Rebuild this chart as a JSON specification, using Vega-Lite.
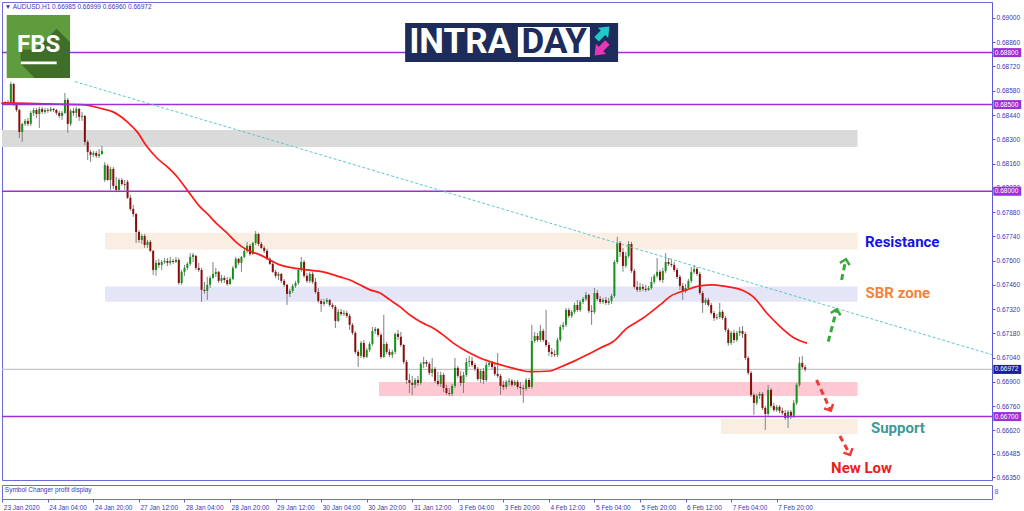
{
"$schema":"https://vega.github.io/schema/vega-lite/v6.json",
"background":"#ffffff",
"padding":{"left":-2,"top":1,"right":0,"bottom":0},
"autosize":{"type":"pad"},
"spacing":2,
"config":{"view":{"stroke":"#6b6be0","strokeWidth":1},"font":"Liberation Sans","scale":{"continuousPadding":0}},
"datasets":{
"candles":[
{"t":0,"o":0.68510,"h":0.68521,"l":0.68498,"c":0.68504},
{"t":1,"o":0.68504,"h":0.68521,"l":0.68498,"c":0.68515},
{"t":2,"o":0.68515,"h":0.68527,"l":0.68504,"c":0.68510},
{"t":3,"o":0.68510,"h":0.68631,"l":0.68504,"c":0.68619},
{"t":4,"o":0.68619,"h":0.68625,"l":0.68492,"c":0.68498},
{"t":5,"o":0.68498,"h":0.68504,"l":0.68458,"c":0.68469},
{"t":6,"o":0.68469,"h":0.68475,"l":0.68308,"c":0.68342},
{"t":7,"o":0.68342,"h":0.68394,"l":0.68285,"c":0.68389},
{"t":8,"o":0.68389,"h":0.68417,"l":0.68377,"c":0.68406},
{"t":9,"o":0.68406,"h":0.68423,"l":0.68377,"c":0.68389},
{"t":10,"o":0.68389,"h":0.68464,"l":0.68377,"c":0.68452},
{"t":11,"o":0.68452,"h":0.68481,"l":0.68435,"c":0.68469},
{"t":12,"o":0.68469,"h":0.68481,"l":0.68423,"c":0.68446},
{"t":13,"o":0.68446,"h":0.68487,"l":0.68365,"c":0.68475},
{"t":14,"o":0.68475,"h":0.68487,"l":0.68446,"c":0.68458},
{"t":15,"o":0.68458,"h":0.68481,"l":0.68446,"c":0.68469},
{"t":16,"o":0.68469,"h":0.68481,"l":0.68452,"c":0.68464},
{"t":17,"o":0.68464,"h":0.68487,"l":0.68458,"c":0.68475},
{"t":18,"o":0.68475,"h":0.68481,"l":0.68458,"c":0.68469},
{"t":19,"o":0.68469,"h":0.68475,"l":0.68440,"c":0.68452},
{"t":20,"o":0.68452,"h":0.68464,"l":0.68423,"c":0.68435},
{"t":21,"o":0.68435,"h":0.68464,"l":0.68412,"c":0.68452},
{"t":22,"o":0.68452,"h":0.68567,"l":0.68446,"c":0.68527},
{"t":23,"o":0.68527,"h":0.68539,"l":0.68337,"c":0.68389},
{"t":24,"o":0.68389,"h":0.68475,"l":0.68377,"c":0.68464},
{"t":25,"o":0.68464,"h":0.68481,"l":0.68435,"c":0.68452},
{"t":26,"o":0.68452,"h":0.68487,"l":0.68423,"c":0.68475},
{"t":27,"o":0.68475,"h":0.68481,"l":0.68406,"c":0.68429},
{"t":28,"o":0.68429,"h":0.68458,"l":0.68406,"c":0.68435},
{"t":29,"o":0.68435,"h":0.68440,"l":0.68267,"c":0.68285},
{"t":30,"o":0.68285,"h":0.68296,"l":0.68181,"c":0.68227},
{"t":31,"o":0.68227,"h":0.68239,"l":0.68169,"c":0.68210},
{"t":32,"o":0.68210,"h":0.68233,"l":0.68198,"c":0.68221},
{"t":33,"o":0.68221,"h":0.68233,"l":0.68192,"c":0.68204},
{"t":34,"o":0.68204,"h":0.68244,"l":0.68192,"c":0.68215},
{"t":35,"o":0.68215,"h":0.68262,"l":0.68210,"c":0.68233},
{"t":36,"o":0.68065,"h":0.68169,"l":0.68054,"c":0.68152},
{"t":37,"o":0.68146,"h":0.68158,"l":0.68060,"c":0.68065},
{"t":38,"o":0.68065,"h":0.68140,"l":0.68008,"c":0.68129},
{"t":39,"o":0.68129,"h":0.68140,"l":0.68013,"c":0.68031},
{"t":40,"o":0.68031,"h":0.68083,"l":0.68002,"c":0.68008},
{"t":41,"o":0.68008,"h":0.68077,"l":0.68002,"c":0.68065},
{"t":42,"o":0.68065,"h":0.68077,"l":0.68031,"c":0.68042},
{"t":43,"o":0.68042,"h":0.68065,"l":0.68008,"c":0.68037},
{"t":44,"o":0.68054,"h":0.68065,"l":0.67956,"c":0.67962},
{"t":45,"o":0.67962,"h":0.67979,"l":0.67887,"c":0.67898},
{"t":46,"o":0.67898,"h":0.67921,"l":0.67852,"c":0.67869},
{"t":47,"o":0.67869,"h":0.67875,"l":0.67702,"c":0.67765},
{"t":48,"o":0.67765,"h":0.67777,"l":0.67702,"c":0.67719},
{"t":49,"o":0.67719,"h":0.67754,"l":0.67696,"c":0.67742},
{"t":50,"o":0.67742,"h":0.67754,"l":0.67673,"c":0.67690},
{"t":51,"o":0.67690,"h":0.67719,"l":0.67673,"c":0.67708},
{"t":52,"o":0.67708,"h":0.67719,"l":0.67650,"c":0.67656},
{"t":53,"o":0.67656,"h":0.67662,"l":0.67517,"c":0.67546},
{"t":54,"o":0.67546,"h":0.67604,"l":0.67512,"c":0.67587},
{"t":55,"o":0.67587,"h":0.67610,"l":0.67558,"c":0.67575},
{"t":56,"o":0.67575,"h":0.67604,"l":0.67546,"c":0.67592},
{"t":57,"o":0.67592,"h":0.67615,"l":0.67581,"c":0.67598},
{"t":58,"o":0.67598,"h":0.67615,"l":0.67569,"c":0.67587},
{"t":59,"o":0.67587,"h":0.67621,"l":0.67575,"c":0.67598},
{"t":60,"o":0.67598,"h":0.67610,"l":0.67581,"c":0.67592},
{"t":61,"o":0.67592,"h":0.67621,"l":0.67587,"c":0.67604},
{"t":62,"o":0.67604,"h":0.67615,"l":0.67460,"c":0.67471},
{"t":63,"o":0.67471,"h":0.67546,"l":0.67460,"c":0.67535},
{"t":64,"o":0.67535,"h":0.67575,"l":0.67512,"c":0.67558},
{"t":65,"o":0.67558,"h":0.67592,"l":0.67546,"c":0.67581},
{"t":66,"o":0.67581,"h":0.67644,"l":0.67569,"c":0.67621},
{"t":67,"o":0.67621,"h":0.67644,"l":0.67592,"c":0.67633},
{"t":68,"o":0.67627,"h":0.67633,"l":0.67546,"c":0.67558},
{"t":69,"o":0.67558,"h":0.67587,"l":0.67535,"c":0.67546},
{"t":70,"o":0.67546,"h":0.67558,"l":0.67362,"c":0.67431},
{"t":71,"o":0.67431,"h":0.67477,"l":0.67408,"c":0.67425},
{"t":72,"o":0.67425,"h":0.67506,"l":0.67373,"c":0.67460},
{"t":73,"o":0.67460,"h":0.67512,"l":0.67442,"c":0.67500},
{"t":74,"o":0.67500,"h":0.67592,"l":0.67494,"c":0.67523},
{"t":75,"o":0.67523,"h":0.67558,"l":0.67506,"c":0.67535},
{"t":76,"o":0.67535,"h":0.67540,"l":0.67471,"c":0.67483},
{"t":77,"o":0.67483,"h":0.67517,"l":0.67471,"c":0.67500},
{"t":78,"o":0.67500,"h":0.67512,"l":0.67471,"c":0.67488},
{"t":79,"o":0.67488,"h":0.67506,"l":0.67454,"c":0.67465},
{"t":80,"o":0.67465,"h":0.67506,"l":0.67460,"c":0.67494},
{"t":81,"o":0.67494,"h":0.67569,"l":0.67488,"c":0.67558},
{"t":82,"o":0.67558,"h":0.67621,"l":0.67552,"c":0.67610},
{"t":83,"o":0.67610,"h":0.67615,"l":0.67575,"c":0.67587},
{"t":84,"o":0.67587,"h":0.67627,"l":0.67535,"c":0.67621},
{"t":85,"o":0.67621,"h":0.67667,"l":0.67615,"c":0.67656},
{"t":86,"o":0.67656,"h":0.67708,"l":0.67644,"c":0.67685},
{"t":87,"o":0.67685,"h":0.67696,"l":0.67627,"c":0.67638},
{"t":88,"o":0.67638,"h":0.67708,"l":0.67633,"c":0.67702},
{"t":89,"o":0.67702,"h":0.67771,"l":0.67690,"c":0.67754},
{"t":90,"o":0.67754,"h":0.67760,"l":0.67685,"c":0.67696},
{"t":91,"o":0.67696,"h":0.67708,"l":0.67667,"c":0.67673},
{"t":92,"o":0.67673,"h":0.67685,"l":0.67644,"c":0.67656},
{"t":93,"o":0.67656,"h":0.67667,"l":0.67604,"c":0.67610},
{"t":94,"o":0.67610,"h":0.67621,"l":0.67575,"c":0.67581},
{"t":95,"o":0.67581,"h":0.67592,"l":0.67529,"c":0.67535},
{"t":96,"o":0.67535,"h":0.67546,"l":0.67500,"c":0.67512},
{"t":97,"o":0.67512,"h":0.67535,"l":0.67488,"c":0.67523},
{"t":98,"o":0.67523,"h":0.67529,"l":0.67471,"c":0.67483},
{"t":99,"o":0.67483,"h":0.67494,"l":0.67448,"c":0.67460},
{"t":100,"o":0.67460,"h":0.67465,"l":0.67344,"c":0.67408},
{"t":101,"o":0.67408,"h":0.67437,"l":0.67390,"c":0.67425},
{"t":102,"o":0.67425,"h":0.67465,"l":0.67413,"c":0.67454},
{"t":103,"o":0.67454,"h":0.67483,"l":0.67442,"c":0.67471},
{"t":104,"o":0.67471,"h":0.67558,"l":0.67460,"c":0.67546},
{"t":105,"o":0.67546,"h":0.67621,"l":0.67535,"c":0.67592},
{"t":106,"o":0.67592,"h":0.67604,"l":0.67500,"c":0.67512},
{"t":107,"o":0.67512,"h":0.67529,"l":0.67471,"c":0.67483},
{"t":108,"o":0.67483,"h":0.67535,"l":0.67471,"c":0.67523},
{"t":109,"o":0.67523,"h":0.67535,"l":0.67465,"c":0.67477},
{"t":110,"o":0.67477,"h":0.67500,"l":0.67408,"c":0.67419},
{"t":111,"o":0.67419,"h":0.67442,"l":0.67356,"c":0.67367},
{"t":112,"o":0.67367,"h":0.67379,"l":0.67304,"c":0.67350},
{"t":113,"o":0.67350,"h":0.67379,"l":0.67338,"c":0.67362},
{"t":114,"o":0.67362,"h":0.67385,"l":0.67350,"c":0.67373},
{"t":115,"o":0.67373,"h":0.67379,"l":0.67333,"c":0.67344},
{"t":116,"o":0.67344,"h":0.67356,"l":0.67321,"c":0.67333},
{"t":117,"o":0.67333,"h":0.67344,"l":0.67211,"c":0.67252},
{"t":118,"o":0.67252,"h":0.67321,"l":0.67246,"c":0.67304},
{"t":119,"o":0.67304,"h":0.67321,"l":0.67281,"c":0.67292},
{"t":120,"o":0.67292,"h":0.67315,"l":0.67281,"c":0.67298},
{"t":121,"o":0.67298,"h":0.67310,"l":0.67269,"c":0.67281},
{"t":122,"o":0.67281,"h":0.67292,"l":0.67200,"c":0.67229},
{"t":123,"o":0.67229,"h":0.67240,"l":0.67171,"c":0.67183},
{"t":124,"o":0.67183,"h":0.67194,"l":0.67061,"c":0.67073},
{"t":125,"o":0.67073,"h":0.67085,"l":0.66986,"c":0.67050},
{"t":126,"o":0.67050,"h":0.67136,"l":0.67038,"c":0.67125},
{"t":127,"o":0.67125,"h":0.67142,"l":0.67033,"c":0.67044},
{"t":128,"o":0.67044,"h":0.67096,"l":0.67038,"c":0.67085},
{"t":129,"o":0.67085,"h":0.67131,"l":0.67073,"c":0.67119},
{"t":130,"o":0.67119,"h":0.67217,"l":0.67108,"c":0.67194},
{"t":131,"o":0.67194,"h":0.67217,"l":0.67177,"c":0.67206},
{"t":132,"o":0.67206,"h":0.67211,"l":0.67160,"c":0.67171},
{"t":133,"o":0.67171,"h":0.67183,"l":0.67033,"c":0.67044},
{"t":134,"o":0.67044,"h":0.67287,"l":0.67038,"c":0.67119},
{"t":135,"o":0.67119,"h":0.67131,"l":0.67061,"c":0.67073},
{"t":136,"o":0.67073,"h":0.67090,"l":0.67044,"c":0.67056},
{"t":137,"o":0.67056,"h":0.67085,"l":0.67038,"c":0.67073},
{"t":138,"o":0.67073,"h":0.67183,"l":0.67061,"c":0.67177},
{"t":139,"o":0.67177,"h":0.67200,"l":0.67142,"c":0.67160},
{"t":140,"o":0.67160,"h":0.67188,"l":0.67102,"c":0.67113},
{"t":141,"o":0.67113,"h":0.67119,"l":0.67004,"c":0.67015},
{"t":142,"o":0.67015,"h":0.67027,"l":0.66888,"c":0.66911},
{"t":143,"o":0.66911,"h":0.66946,"l":0.66836,"c":0.66894},
{"t":144,"o":0.66894,"h":0.66935,"l":0.66825,"c":0.66883},
{"t":145,"o":0.66883,"h":0.66923,"l":0.66865,"c":0.66911},
{"t":146,"o":0.66911,"h":0.66935,"l":0.66877,"c":0.66894},
{"t":147,"o":0.66894,"h":0.67015,"l":0.66883,"c":0.67004},
{"t":148,"o":0.67004,"h":0.67044,"l":0.66981,"c":0.67015},
{"t":149,"o":0.67015,"h":0.67027,"l":0.66986,"c":0.67004},
{"t":150,"o":0.67004,"h":0.67015,"l":0.66940,"c":0.66952},
{"t":151,"o":0.66952,"h":0.67038,"l":0.66929,"c":0.66975},
{"t":152,"o":0.66975,"h":0.66986,"l":0.66894,"c":0.66906},
{"t":153,"o":0.66906,"h":0.66958,"l":0.66877,"c":0.66888},
{"t":154,"o":0.66888,"h":0.66958,"l":0.66871,"c":0.66940},
{"t":155,"o":0.66940,"h":0.66952,"l":0.66842,"c":0.66865},
{"t":156,"o":0.66865,"h":0.66883,"l":0.66825,"c":0.66836},
{"t":157,"o":0.66836,"h":0.66865,"l":0.66819,"c":0.66831},
{"t":158,"o":0.66831,"h":0.66888,"l":0.66819,"c":0.66877},
{"t":159,"o":0.66877,"h":0.67038,"l":0.66865,"c":0.66981},
{"t":160,"o":0.66981,"h":0.66992,"l":0.66923,"c":0.66935},
{"t":161,"o":0.66935,"h":0.66963,"l":0.66877,"c":0.66894},
{"t":162,"o":0.66894,"h":0.66958,"l":0.66836,"c":0.66940},
{"t":163,"o":0.66940,"h":0.67038,"l":0.66929,"c":0.67015},
{"t":164,"o":0.67015,"h":0.67050,"l":0.66986,"c":0.67021},
{"t":165,"o":0.67021,"h":0.67044,"l":0.66986,"c":0.66998},
{"t":166,"o":0.66998,"h":0.67010,"l":0.66963,"c":0.66975},
{"t":167,"o":0.66975,"h":0.66986,"l":0.66906,"c":0.66917},
{"t":168,"o":0.66917,"h":0.66975,"l":0.66894,"c":0.66963},
{"t":169,"o":0.66963,"h":0.66981,"l":0.66888,"c":0.66911},
{"t":170,"o":0.66911,"h":0.67015,"l":0.66900,"c":0.66998},
{"t":171,"o":0.66998,"h":0.67021,"l":0.66986,"c":0.67010},
{"t":172,"o":0.67010,"h":0.67021,"l":0.66975,"c":0.66986},
{"t":173,"o":0.66986,"h":0.67004,"l":0.66935,"c":0.66946},
{"t":174,"o":0.66946,"h":0.67067,"l":0.66923,"c":0.66935},
{"t":175,"o":0.66935,"h":0.66946,"l":0.66825,"c":0.66877},
{"t":176,"o":0.66883,"h":0.66906,"l":0.66854,"c":0.66871},
{"t":177,"o":0.66871,"h":0.66911,"l":0.66860,"c":0.66900},
{"t":178,"o":0.66900,"h":0.66923,"l":0.66877,"c":0.66906},
{"t":179,"o":0.66906,"h":0.66917,"l":0.66871,"c":0.66883},
{"t":180,"o":0.66883,"h":0.66911,"l":0.66877,"c":0.66900},
{"t":181,"o":0.66900,"h":0.66911,"l":0.66860,"c":0.66871},
{"t":182,"o":0.66871,"h":0.66900,"l":0.66825,"c":0.66865},
{"t":183,"o":0.66865,"h":0.66883,"l":0.66779,"c":0.66860},
{"t":184,"o":0.66860,"h":0.66923,"l":0.66848,"c":0.66911},
{"t":185,"o":0.66911,"h":0.66923,"l":0.66860,"c":0.66871},
{"t":186,"o":0.66871,"h":0.67229,"l":0.66860,"c":0.67136},
{"t":187,"o":0.67136,"h":0.67188,"l":0.67125,"c":0.67165},
{"t":188,"o":0.67165,"h":0.67183,"l":0.67131,"c":0.67142},
{"t":189,"o":0.67142,"h":0.67229,"l":0.67131,"c":0.67194},
{"t":190,"o":0.67194,"h":0.67206,"l":0.67131,"c":0.67142},
{"t":191,"o":0.67142,"h":0.67315,"l":0.67102,"c":0.67113},
{"t":192,"o":0.67113,"h":0.67131,"l":0.67050,"c":0.67073},
{"t":193,"o":0.67073,"h":0.67096,"l":0.67044,"c":0.67061},
{"t":194,"o":0.67061,"h":0.67085,"l":0.67044,"c":0.67056},
{"t":195,"o":0.67056,"h":0.67154,"l":0.67044,"c":0.67142},
{"t":196,"o":0.67142,"h":0.67229,"l":0.67131,"c":0.67217},
{"t":197,"o":0.67217,"h":0.67246,"l":0.67200,"c":0.67229},
{"t":198,"o":0.67229,"h":0.67327,"l":0.67217,"c":0.67315},
{"t":199,"o":0.67315,"h":0.67327,"l":0.67269,"c":0.67281},
{"t":200,"o":0.67281,"h":0.67315,"l":0.67269,"c":0.67304},
{"t":201,"o":0.67304,"h":0.67356,"l":0.67292,"c":0.67344},
{"t":202,"o":0.67344,"h":0.67373,"l":0.67304,"c":0.67315},
{"t":203,"o":0.67315,"h":0.67373,"l":0.67304,"c":0.67362},
{"t":204,"o":0.67362,"h":0.67390,"l":0.67350,"c":0.67379},
{"t":205,"o":0.67379,"h":0.67419,"l":0.67367,"c":0.67402},
{"t":206,"o":0.67402,"h":0.67408,"l":0.67298,"c":0.67310},
{"t":207,"o":0.67310,"h":0.67344,"l":0.67229,"c":0.67304},
{"t":208,"o":0.67304,"h":0.67442,"l":0.67292,"c":0.67413},
{"t":209,"o":0.67413,"h":0.67431,"l":0.67367,"c":0.67379},
{"t":210,"o":0.67379,"h":0.67396,"l":0.67350,"c":0.67362},
{"t":211,"o":0.67362,"h":0.67385,"l":0.67350,"c":0.67373},
{"t":212,"o":0.67373,"h":0.67390,"l":0.67344,"c":0.67356},
{"t":213,"o":0.67356,"h":0.67385,"l":0.67344,"c":0.67367},
{"t":214,"o":0.67367,"h":0.67408,"l":0.67350,"c":0.67396},
{"t":215,"o":0.67396,"h":0.67604,"l":0.67385,"c":0.67592},
{"t":216,"o":0.67592,"h":0.67737,"l":0.67581,"c":0.67702},
{"t":217,"o":0.67702,"h":0.67713,"l":0.67621,"c":0.67650},
{"t":218,"o":0.67650,"h":0.67673,"l":0.67535,"c":0.67569},
{"t":219,"o":0.67569,"h":0.67650,"l":0.67558,"c":0.67627},
{"t":220,"o":0.67627,"h":0.67713,"l":0.67615,"c":0.67696},
{"t":221,"o":0.67696,"h":0.67708,"l":0.67529,"c":0.67540},
{"t":222,"o":0.67540,"h":0.67552,"l":0.67437,"c":0.67448},
{"t":223,"o":0.67448,"h":0.67483,"l":0.67419,"c":0.67431},
{"t":224,"o":0.67431,"h":0.67471,"l":0.67419,"c":0.67448},
{"t":225,"o":0.67448,"h":0.67465,"l":0.67425,"c":0.67437},
{"t":226,"o":0.67437,"h":0.67460,"l":0.67419,"c":0.67431},
{"t":227,"o":0.67431,"h":0.67454,"l":0.67425,"c":0.67442},
{"t":228,"o":0.67442,"h":0.67506,"l":0.67431,"c":0.67477},
{"t":229,"o":0.67477,"h":0.67523,"l":0.67465,"c":0.67512},
{"t":230,"o":0.67512,"h":0.67615,"l":0.67500,"c":0.67535},
{"t":231,"o":0.67535,"h":0.67546,"l":0.67477,"c":0.67488},
{"t":232,"o":0.67488,"h":0.67558,"l":0.67471,"c":0.67540},
{"t":233,"o":0.67540,"h":0.67644,"l":0.67529,"c":0.67592},
{"t":234,"o":0.67592,"h":0.67615,"l":0.67569,"c":0.67581},
{"t":235,"o":0.67581,"h":0.67610,"l":0.67563,"c":0.67575},
{"t":236,"o":0.67575,"h":0.67592,"l":0.67535,"c":0.67546},
{"t":237,"o":0.67546,"h":0.67558,"l":0.67494,"c":0.67506},
{"t":238,"o":0.67506,"h":0.67517,"l":0.67431,"c":0.67454},
{"t":239,"o":0.67454,"h":0.67471,"l":0.67373,"c":0.67425},
{"t":240,"o":0.67425,"h":0.67465,"l":0.67413,"c":0.67442},
{"t":241,"o":0.67442,"h":0.67494,"l":0.67431,"c":0.67483},
{"t":242,"o":0.67483,"h":0.67563,"l":0.67471,"c":0.67535},
{"t":243,"o":0.67535,"h":0.67575,"l":0.67523,"c":0.67552},
{"t":244,"o":0.67552,"h":0.67563,"l":0.67512,"c":0.67523},
{"t":245,"o":0.67523,"h":0.67535,"l":0.67402,"c":0.67413},
{"t":246,"o":0.67413,"h":0.67425,"l":0.67298,"c":0.67356},
{"t":247,"o":0.67356,"h":0.67385,"l":0.67344,"c":0.67373},
{"t":248,"o":0.67373,"h":0.67385,"l":0.67333,"c":0.67344},
{"t":249,"o":0.67344,"h":0.67356,"l":0.67287,"c":0.67298},
{"t":250,"o":0.67298,"h":0.67310,"l":0.67252,"c":0.67269},
{"t":251,"o":0.67269,"h":0.67292,"l":0.67258,"c":0.67275},
{"t":252,"o":0.67275,"h":0.67356,"l":0.67263,"c":0.67304},
{"t":253,"o":0.67304,"h":0.67315,"l":0.67258,"c":0.67269},
{"t":254,"o":0.67269,"h":0.67281,"l":0.67188,"c":0.67200},
{"t":255,"o":0.67200,"h":0.67211,"l":0.67108,"c":0.67125},
{"t":256,"o":0.67125,"h":0.67194,"l":0.67113,"c":0.67183},
{"t":257,"o":0.67183,"h":0.67200,"l":0.67125,"c":0.67142},
{"t":258,"o":0.67142,"h":0.67194,"l":0.67131,"c":0.67183},
{"t":259,"o":0.67183,"h":0.67217,"l":0.67165,"c":0.67194},
{"t":260,"o":0.67194,"h":0.67223,"l":0.67154,"c":0.67177},
{"t":261,"o":0.67177,"h":0.67188,"l":0.67027,"c":0.67038},
{"t":262,"o":0.67038,"h":0.67050,"l":0.66940,"c":0.66952},
{"t":263,"o":0.66952,"h":0.66963,"l":0.66813,"c":0.66825},
{"t":264,"o":0.66825,"h":0.66836,"l":0.66710,"c":0.66779},
{"t":265,"o":0.66779,"h":0.66831,"l":0.66767,"c":0.66819},
{"t":266,"o":0.66819,"h":0.66842,"l":0.66802,"c":0.66831},
{"t":267,"o":0.66831,"h":0.66842,"l":0.66738,"c":0.66750},
{"t":268,"o":0.66750,"h":0.66761,"l":0.66623,"c":0.66715},
{"t":269,"o":0.66715,"h":0.66883,"l":0.66704,"c":0.66854},
{"t":270,"o":0.66854,"h":0.66865,"l":0.66750,"c":0.66761},
{"t":271,"o":0.66761,"h":0.66779,"l":0.66727,"c":0.66738},
{"t":272,"o":0.66738,"h":0.66767,"l":0.66727,"c":0.66756},
{"t":273,"o":0.66756,"h":0.66767,"l":0.66721,"c":0.66733},
{"t":274,"o":0.66733,"h":0.66750,"l":0.66710,"c":0.66721},
{"t":275,"o":0.66721,"h":0.66738,"l":0.66681,"c":0.66692},
{"t":276,"o":0.66692,"h":0.66738,"l":0.66634,"c":0.66727},
{"t":277,"o":0.66727,"h":0.66738,"l":0.66686,"c":0.66704},
{"t":278,"o":0.66704,"h":0.66796,"l":0.66692,"c":0.66779},
{"t":279,"o":0.66779,"h":0.66894,"l":0.66767,"c":0.66883},
{"t":280,"o":0.66883,"h":0.67044,"l":0.66871,"c":0.67010},
{"t":281,"o":0.67010,"h":0.67050,"l":0.66975,"c":0.66985},
{"t":282,"o":0.66985,"h":0.66999,"l":0.66960,"c":0.66972}
],
"ma":[
{"t":0,"ma":0.6851},{"t":9,"ma":0.68507},{"t":16,"ma":0.68504},{"t":29,"ma":0.68498},{"t":34.3,"ma":0.68479},{"t":38.9,"ma":0.68458},{"t":43.8,"ma":0.68402},{"t":47.3,"ma":0.68344},{"t":50.8,"ma":0.68258},{"t":54.3,"ma":0.68192},{"t":57.9,"ma":0.68142},{"t":61.4,"ma":0.68084},{"t":64.9,"ma":0.68008},{"t":69.4,"ma":0.67911},{"t":73,"ma":0.67854},{"t":74,"ma":0.67835},{"t":78.9,"ma":0.6776},{"t":82.4,"ma":0.67702},{"t":85.9,"ma":0.67662},{"t":90.5,"ma":0.67633},{"t":94,"ma":0.67604},{"t":97.5,"ma":0.67575},{"t":102.1,"ma":0.67558},{"t":107,"ma":0.67546},{"t":112.6,"ma":0.67535},{"t":118.6,"ma":0.67506},{"t":122.1,"ma":0.67488},{"t":125.6,"ma":0.6746},{"t":129.2,"ma":0.67431},{"t":132.7,"ma":0.67413},{"t":136.2,"ma":0.67373},{"t":139.7,"ma":0.67333},{"t":143.2,"ma":0.67286},{"t":146.7,"ma":0.67248},{"t":151.3,"ma":0.67211},{"t":154.8,"ma":0.67171},{"t":158.3,"ma":0.67125},{"t":163.2,"ma":0.67075},{"t":167.8,"ma":0.67038},{"t":172.4,"ma":0.67011},{"t":177.3,"ma":0.66988},{"t":181.8,"ma":0.66969},{"t":185.4,"ma":0.66959},{"t":192.4,"ma":0.66963},{"t":195.9,"ma":0.66985},{"t":200.5,"ma":0.67017},{"t":205.4,"ma":0.67056},{"t":210,"ma":0.67096},{"t":214.5,"ma":0.67132},{"t":219.4,"ma":0.6721},{"t":225,"ma":0.67267},{"t":231,"ma":0.67344},{"t":234.5,"ma":0.67392},{"t":240.5,"ma":0.67431},{"t":245,"ma":0.67454},{"t":249.6,"ma":0.6746},{"t":254.5,"ma":0.6745},{"t":260.2,"ma":0.67427},{"t":263.7,"ma":0.67392},{"t":268.6,"ma":0.67296},{"t":273.2,"ma":0.67219},{"t":277.7,"ma":0.67158},{"t":282.7,"ma":0.67123}
]
},
"vconcat":[
{
"width":990,"height":478,
"resolve":{"axis":{"x":"independent","y":"independent"}},
"layer":[
{"data":{"values":[{"x1":-0.1,"x2":300.4,"y1":0.68354,"y2":0.68255}]},
 "mark":{"type":"rect","color":"#dadada"},
 "encoding":{
  "x":{"field":"x1","type":"quantitative","scale":{"domain":[-0.1,347.63],"nice":false,"zero":false,"padding":0},"axis":null},
  "x2":{"field":"x2"},
  "y":{"field":"y1","type":"quantitative","scale":{"domain":[0.66334,0.69092],"nice":false,"zero":false,"padding":0},
   "axis":{"orient":"right","title":null,"grid":false,"values":[0.69,0.6886,0.6872,0.6858,0.6844,0.683,0.6816,0.6802,0.6788,0.6774,0.676,0.6746,0.6732,0.6718,0.6704,0.669,0.6676,0.6662,0.66485,0.6635],"format":".5f","domain":true,"domainColor":"#5b5bd8","tickColor":"#5b5bd8","tickSize":3,"labelFont":"Liberation Sans","labelFontSize":6.5,"labelColor":"#3838b8","labelPadding":1,"labelAlign":"left","labelBaseline":"middle","labelOverlap":false,"labelFlush":false}},
  "y2":{"field":"y2"}}},
{"data":{"values":[{"x1":36.1,"x2":300.4,"y1":0.6776,"y2":0.67664},{"x1":252.4,"x2":300.4,"y1":0.66686,"y2":0.666}]},
 "mark":{"type":"rect","color":"#faeee2"},
 "encoding":{"x":{"field":"x1","type":"quantitative","axis":null},"x2":{"field":"x2"},"y":{"field":"y1","type":"quantitative","axis":null},"y2":{"field":"y2"}}},
{"data":{"values":[{"x1":36.1,"x2":300.4,"y1":0.6745,"y2":0.67362}]},
 "mark":{"type":"rect","color":"#e4e6f8"},
 "encoding":{"x":{"field":"x1","type":"quantitative","axis":null},"x2":{"field":"x2"},"y":{"field":"y1","type":"quantitative","axis":null},"y2":{"field":"y2"}}},
{"data":{"values":[{"x1":132.3,"x2":300.4,"y1":0.669,"y2":0.66819}]},
 "mark":{"type":"rect","color":"#ffc8d2"},
 "encoding":{"x":{"field":"x1","type":"quantitative","axis":null},"x2":{"field":"x2"},"y":{"field":"y1","type":"quantitative","axis":null},"y2":{"field":"y2"}}},
{"data":{"values":[{"p":0.66972}]},
 "mark":{"type":"rule","color":"#c4c4c4","strokeWidth":1.3},
 "encoding":{"y":{"field":"p","type":"quantitative","axis":null}}},
{"data":{"name":"candles"},
 "mark":{"type":"rule","color":"#808080","strokeWidth":1},
 "encoding":{"x":{"field":"t","type":"quantitative","axis":null},"y":{"field":"l","type":"quantitative","axis":null},"y2":{"field":"h"}}},
{"data":{"name":"candles"},
 "mark":{"type":"bar","width":2},
 "encoding":{"x":{"field":"t","type":"quantitative","axis":null},"y":{"field":"o","type":"quantitative","axis":null},"y2":{"field":"c"},
  "color":{"condition":{"test":"datum.c > datum.o","value":"#15901a"},"value":"#8b0a0a"}}},
{"data":{"name":"ma"},
 "mark":{"type":"line","color":"#ff1a1a","strokeWidth":1.7,"interpolate":"monotone"},
 "encoding":{"x":{"field":"t","type":"quantitative","axis":null},"y":{"field":"ma","type":"quantitative","axis":null}}},
{"data":{"values":[{"p":0.688},{"p":0.685},{"p":0.68},{"p":0.667}]},
 "mark":{"type":"rule","color":"#9b30d9","strokeWidth":1.5},
 "encoding":{"y":{"field":"p","type":"quantitative","axis":null}}},
{"data":{"values":[{"t1":25.5,"p1":0.68633,"t2":347.6,"p2":0.67057}]},
 "mark":{"type":"rule","color":"#5ec8c8","strokeWidth":1,"strokeDash":[3,2]},
 "encoding":{"x":{"field":"t1","type":"quantitative","axis":null},"x2":{"field":"t2"},"y":{"field":"p1","type":"quantitative","axis":null},"y2":{"field":"p2"}}},
{"data":{"values":[{"t1":290.1,"p1":0.67132,"t2":293.1,"p2":0.67319},{"t1":294.8,"p1":0.67488,"t2":296.3,"p2":0.67608}]},
 "mark":{"type":"rule","color":"#3aa838","strokeWidth":3,"strokeDash":[6,4]},
 "encoding":{"x":{"field":"t1","type":"quantitative","axis":null},"x2":{"field":"t2"},"y":{"field":"p1","type":"quantitative","axis":null},"y2":{"field":"p2"}}},
{"data":{"values":[{"t1":286.0,"p1":0.66911,"t2":291.0,"p2":0.66734},{"t1":294.2,"p1":0.66588,"t2":297.8,"p2":0.66479}]},
 "mark":{"type":"rule","color":"#f03a3a","strokeWidth":3,"strokeDash":[6,4]},
 "encoding":{"x":{"field":"t1","type":"quantitative","axis":null},"x2":{"field":"t2"},"y":{"field":"p1","type":"quantitative","axis":null},"y2":{"field":"p2"}}},
{"data":{"values":[{"t":293.1,"p":0.67319},{"t":296.3,"p":0.67608}]},
 "mark":{"type":"point","shape":"M-1,1L0,0L1,1","filled":false,"color":"#3aa838","strokeWidth":2.5,"size":100,"angle":13,"opacity":1},
 "encoding":{"x":{"field":"t","type":"quantitative","axis":null},"y":{"field":"p","type":"quantitative","axis":null}}},
{"data":{"values":[{"t":291.0,"p":0.66734},{"t":297.8,"p":0.66479}]},
 "mark":{"type":"point","shape":"M-1,1L0,0L1,1","filled":false,"color":"#f03a3a","strokeWidth":2.5,"size":100,"angle":154,"opacity":1},
 "encoding":{"x":{"field":"t","type":"quantitative","axis":null},"y":{"field":"p","type":"quantitative","axis":null}}},
{"data":{"values":[{"t":303.0,"p":0.67709,"txt":"Resistance"},{"t":303.2,"p":0.67412,"txt":"SBR zone"},{"t":305.1,"p":0.66634,"txt":"Support"},{"t":291.1,"p":0.66404,"txt":"New Low"}]},
 "mark":{"type":"text","align":"left","baseline":"middle","font":"Roboto","fontWeight":"bold","fontSize":15},
 "encoding":{"x":{"field":"t","type":"quantitative","axis":null},"y":{"field":"p","type":"quantitative","axis":null},"text":{"field":"txt"},
  "color":{"field":"txt","type":"nominal","legend":null,"scale":{"domain":["Resistance","SBR zone","Support","New Low"],"range":["#1414e6","#f5823c","#3c9a98","#ee1c1c"]}}}},
{"data":{"values":[{"p":0.688},{"p":0.685},{"p":0.68},{"p":0.667}]},
 "mark":{"type":"bar","height":9,"color":"#9b30d9"},
 "encoding":{"x":{"datum":348.1,"type":"quantitative","axis":null},"x2":{"datum":357.9},"y":{"field":"p","type":"quantitative","axis":null}}},
{"data":{"values":[{"p":0.66972}]},
 "mark":{"type":"bar","height":9,"color":"#1c1cab"},
 "encoding":{"x":{"datum":348.1,"type":"quantitative","axis":null},"x2":{"datum":357.9},"y":{"field":"p","type":"quantitative","axis":null}}},
{"data":{"values":[{"p":0.688,"lab":"0.68800"},{"p":0.685,"lab":"0.68500"},{"p":0.68,"lab":"0.68000"},{"p":0.667,"lab":"0.66700"},{"p":0.66972,"lab":"0.66972"}]},
 "mark":{"type":"text","align":"left","baseline":"middle","font":"Liberation Sans","fontSize":6.5,"color":"#ffffff"},
 "encoding":{"x":{"datum":348.6,"type":"quantitative","axis":null},"y":{"field":"p","type":"quantitative","axis":null},"text":{"field":"lab"}}},
{"data":{"values":[{"x1":1.55,"x2":23.8,"y1":0.69017,"y2":0.68654}]},
 "mark":{"type":"rect","color":"#5e9c3e"},
 "encoding":{"x":{"field":"x1","type":"quantitative","axis":null},"x2":{"field":"x2"},"y":{"field":"y1","type":"quantitative","axis":null},"y2":{"field":"y2"}}},
{"data":{"values":[{"t":6.46,"top":0.68816,"bot":0.68735},{"t":11.38,"top":0.68816,"bot":0.68654},{"t":19.1,"top":0.68937,"bot":0.68654},{"t":23.78,"top":0.6886,"bot":0.68654}]},
 "mark":{"type":"area","color":"#3f6e29","opacity":1},
 "encoding":{"x":{"field":"t","type":"quantitative","axis":null},"y":{"field":"top","type":"quantitative","axis":null},"y2":{"field":"bot"}}},
{"data":{"values":[{"x1":6.5,"x2":19.1,"y1":0.68748,"y2":0.68733}]},
 "mark":{"type":"rect","color":"#ffffff"},
 "encoding":{"x":{"field":"x1","type":"quantitative","axis":null},"x2":{"field":"x2"},"y":{"field":"y1","type":"quantitative","axis":null},"y2":{"field":"y2"}}},
{"data":{"values":[{"t":12.8,"p":0.68844,"txt":"FBS"}]},
 "mark":{"type":"text","align":"center","baseline":"middle","font":"Roboto","fontWeight":"bold","fontSize":24,"color":"#ffffff"},
 "encoding":{"x":{"field":"t","type":"quantitative","axis":null},"y":{"field":"p","type":"quantitative","axis":null},"text":{"field":"txt"}}},
{"data":{"values":[{"x1":141.5,"x2":216.3,"y1":0.68971,"y2":0.68746}]},
 "mark":{"type":"rect","color":"#1d2c5a"},
 "encoding":{"x":{"field":"x1","type":"quantitative","axis":null},"x2":{"field":"x2"},"y":{"field":"y1","type":"quantitative","axis":null},"y2":{"field":"y2"}}},
{"data":{"values":[{"x1":181.1,"x2":206.4,"y1":0.68948,"y2":0.68775}]},
 "mark":{"type":"rect","color":"#ffffff"},
 "encoding":{"x":{"field":"x1","type":"quantitative","axis":null},"x2":{"field":"x2"},"y":{"field":"y1","type":"quantitative","axis":null},"y2":{"field":"y2"}}},
{"data":{"values":[{"t":142.9,"p":0.68862,"txt":"INTRA"}]},
 "mark":{"type":"text","align":"left","baseline":"middle","font":"Roboto","fontWeight":"bold","fontSize":35,"color":"#ffffff"},
 "encoding":{"x":{"field":"t","type":"quantitative","axis":null},"y":{"field":"p","type":"quantitative","axis":null},"text":{"field":"txt"}}},
{"data":{"values":[{"t":182.4,"p":0.68862,"txt":"DAY"}]},
 "mark":{"type":"text","align":"left","baseline":"middle","font":"Roboto","fontWeight":"bold","fontSize":35,"color":"#1d2c5a"},
 "encoding":{"x":{"field":"t","type":"quantitative","axis":null},"y":{"field":"p","type":"quantitative","axis":null},"text":{"field":"txt"}}},
{"data":{"values":[{"t":211.0,"p":0.68914}]},
 "mark":{"type":"point","shape":"M-0.35,1L-0.35,0L-0.8,0L0,-1L0.8,0L0.35,0L0.35,1Z","filled":true,"color":"#1fc9c9","size":330,"angle":45,"opacity":1},
 "encoding":{"x":{"field":"t","type":"quantitative","axis":null},"y":{"field":"p","type":"quantitative","axis":null}}},
{"data":{"values":[{"t":210.3,"p":0.68821}]},
 "mark":{"type":"point","shape":"M-0.35,1L-0.35,0L-0.8,0L0,-1L0.8,0L0.35,0L0.35,1Z","filled":true,"color":"#e636b4","size":330,"angle":225,"opacity":1},
 "encoding":{"x":{"field":"t","type":"quantitative","axis":null},"y":{"field":"p","type":"quantitative","axis":null}}},
{"data":{"values":[{"t":0.9,"p":0.69064,"txt":"▼  AUDUSD,H1  0.66985 0.66999 0.66960 0.66972"}]},
 "mark":{"type":"text","align":"left","baseline":"middle","font":"Liberation Sans","fontSize":6.5,"color":"#3838b8"},
 "encoding":{"x":{"field":"t","type":"quantitative","axis":null},"y":{"field":"p","type":"quantitative","axis":null},"text":{"field":"txt"}}}
]
},
{
"width":990,"height":14,
"data":{"values":[{"t":0.9,"v":0.64,"txt":"Symbol Changer profit display"}]},
"mark":{"type":"text","align":"left","baseline":"middle","font":"Liberation Sans","fontSize":6.5,"color":"#3838b8"},
"encoding":{
 "x":{"field":"t","type":"quantitative","scale":{"domain":[-0.1,347.63],"nice":false,"zero":false,"padding":0},
  "axis":{"orient":"bottom","title":null,"grid":false,"domain":false,"values":[0,16,32,48,64,80,96,112,128,144,160,176,192,208,224,240,256,272],
   "labelExpr":"['23 Jan 2020','24 Jan 04:00','24 Jan 20:00','27 Jan 12:00','28 Jan 04:00','28 Jan 20:00','29 Jan 12:00','30 Jan 04:00','30 Jan 20:00','31 Jan 12:00','3 Feb 04:00','3 Feb 20:00','4 Feb 12:00','5 Feb 04:00','5 Feb 20:00','6 Feb 12:00','7 Feb 04:00','7 Feb 20:00'][round(datum.value/16)]",
   "tickColor":"#5b5bd8","tickSize":3,"labelFont":"Liberation Sans","labelFontSize":6.5,"labelColor":"#3838b8","labelAlign":"left","labelBaseline":"top","labelPadding":2,"labelOffset":1,"labelOverlap":false,"labelFlush":false}},
 "y":{"field":"v","type":"quantitative","scale":{"domain":[0,1],"nice":false,"zero":false},
  "axis":{"orient":"right","title":null,"grid":false,"domain":false,"ticks":false,"values":[0.57],"labelExpr":"'8'","labelFont":"Liberation Sans","labelFontSize":7,"labelColor":"#5b5bd8","labelPadding":2,"labelAlign":"left","labelBaseline":"middle"}},
 "text":{"field":"txt"}}
}
]
}
